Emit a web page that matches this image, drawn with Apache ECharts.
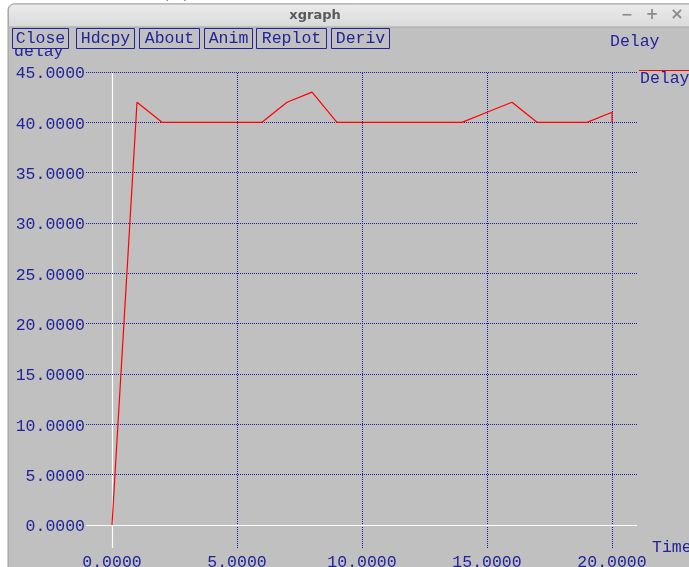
<!DOCTYPE html>
<html>
<head>
<meta charset="utf-8">
<title>xgraph</title>
<script src="https://cdn.jsdelivr.net/npm/echarts@6/dist/echarts.min.js"></script>
<style>
  html, body { margin: 0; padding: 0; background: #ffffff; }
  #chart { width: 689px; height: 567px; }
</style>
</head>
<body>
<div id="chart"></div>
<script>
// Delay samples over time
const times  = [0, 1, 2, 3, 4, 5, 6, 7, 8, 9, 10, 11, 12, 13, 14, 15, 16, 17, 18, 19, 20, 20];
const delays = [0, 42, 40, 40, 40, 40, 40, 42, 43, 40, 40, 40, 40, 40, 40, 41, 42, 40, 40, 40, 41, 40];

// Axis ticks and their labels
const xTicks = [0, 5, 10, 15, 20];
const xTickLabels = ['0.0000', '5.0000', '10.0000', '15.0000', '20.0000'];
const yTicks = [0, 5, 10, 15, 20, 25, 30, 35, 40, 45];
const yTickLabels = ['0.0000', '5.0000', '10.0000', '15.0000', '20.0000',
                     '25.0000', '30.0000', '35.0000', '40.0000', '45.0000'];

// Window text
const windowTitle = 'xgraph';
const buttonLabels = ['Close', 'Hdcpy', 'About', 'Anim', 'Replot', 'Deriv'];
const plotTitle = 'Delay';
const seriesName = 'Delay';
const xAxisName = 'Time';
const yAxisName = 'delay';
const desktopCaption = '(a)';

const INK = '#22229a';
const GRID = '#1c1ca0';
const FACE = '#c0c0c0';
const MONO = '"Liberation Mono", "DejaVu Sans Mono", monospace';
const FONT = '16.5px ' + MONO;

const chart = echarts.init(document.getElementById('chart'), null, { renderer: 'canvas' });

// button frames across the top of the window
const btnLeft  = [12, 76, 139, 204, 256, 331];
const btnRight = [68, 134, 199, 252, 326, 389];
const buttons = buttonLabels.map((t, i) => ({
  type: 'group',
  z: 20,
  children: [
    { type: 'rect', shape: { x: btnLeft[i] + 0.5, y: 28.5, width: btnRight[i] - btnLeft[i], height: 20 },
      style: { fill: FACE, stroke: INK, lineWidth: 1 }, z: 20 },
    { type: 'text', z: 21,
      style: { text: t, x: (btnLeft[i] + btnRight[i]) / 2 + 0.5, y: 39, align: 'center', verticalAlign: 'middle',
               font: FONT, fill: INK } }
  ]
}));

const graphics = [
  // caption on the desktop behind the window
  { type: 'text', z: -12,
    style: { text: desktopCaption, x: 176, y: -7, align: 'center', verticalAlign: 'middle',
             font: '20px "DejaVu Sans", sans-serif', fill: '#222222' } },
  // window body
  { type: 'rect', z: -10, shape: { x: 8, y: 4, width: 690, height: 570, r: [6, 6, 0, 0] },
    style: { fill: FACE, stroke: '#9a9a9a', lineWidth: 1 } },
  // title bar
  { type: 'rect', z: -9, shape: { x: 8.5, y: 4, width: 690, height: 23, r: [6, 6, 0, 0] },
    style: {
      fill: new echarts.graphic.LinearGradient(0, 0, 0, 1, [
        { offset: 0, color: '#ececec' }, { offset: 1, color: '#d9d9d9' }
      ]),
      stroke: '#a8a8a8', lineWidth: 1
    } },
  { type: 'text', z: -8,
    style: { text: windowTitle, x: 315, y: 16, align: 'center', verticalAlign: 'middle',
             font: 'bold 13px "DejaVu Sans", sans-serif', fill: '#5a5a5a' } },
  { type: 'text', z: -8,
    style: { text: '\u2212', x: 627, y: 15, align: 'center', verticalAlign: 'middle',
             font: 'bold 14px "DejaVu Sans", sans-serif', fill: '#8c8c8c' } },
  { type: 'text', z: -8,
    style: { text: '+', x: 652, y: 15, align: 'center', verticalAlign: 'middle',
             font: 'bold 15px "DejaVu Sans", sans-serif', fill: '#8c8c8c' } },
  { type: 'text', z: -8,
    style: { text: '\u00d7', x: 677, y: 15, align: 'center', verticalAlign: 'middle',
             font: 'bold 16px "DejaVu Sans", sans-serif', fill: '#8c8c8c' } },
  // y axis name (partly under the buttons)
  { type: 'text', z: 10,
    style: { text: yAxisName, x: 14, y: 52, align: 'left', verticalAlign: 'middle', font: FONT, fill: INK } },
  // plot title
  { type: 'text', z: 10,
    style: { text: plotTitle, x: 610, y: 42, align: 'left', verticalAlign: 'middle', font: FONT, fill: INK } },
  // legend
  { type: 'line', z: 10, shape: { x1: 639, y1: 70.5, x2: 690, y2: 70.5 },
    style: { stroke: '#ff0000', lineWidth: 1 } },
  { type: 'text', z: 10,
    style: { text: seriesName, x: 640, y: 78.5, align: 'left', verticalAlign: 'middle', font: FONT, fill: INK } },
  // x axis name
  { type: 'text', z: 10,
    style: { text: xAxisName, x: 652, y: 548, align: 'left', verticalAlign: 'middle', font: FONT, fill: INK } }
].concat(buttons);

const labelStyle = { show: true, color: INK, fontFamily: MONO, fontSize: 16.5 };

const vLines = xTicks.map((v, i) => ({
  xAxis: v, name: xTickLabels[i],
  lineStyle: v === 0 ? { color: '#ffffff', type: 'solid', width: 1.2 } : { color: GRID, type: [1, 1], width: 1 },
  label: Object.assign({}, labelStyle, { formatter: '{b}', position: 'start', distance: 6 })
}));
const hLines = yTicks.map((v, i) => ({
  yAxis: v, name: yTickLabels[i],
  lineStyle: v === 0 ? { color: '#ffffff', type: 'solid', width: 1.2 } : { color: GRID, type: [1, 1], width: 1 },
  label: Object.assign({}, labelStyle, {
    formatter: '{t|{b}}', position: 'start', distance: 1,
    rich: { t: { color: INK, fontFamily: MONO, fontSize: 16.5, padding: [4, 0, 0, 0] } }
  })
}));

chart.setOption({
  animation: false,
  backgroundColor: '#ffffff',
  graphic: graphics,
  grid: { left: 86, right: 52, top: 72, bottom: 19, containLabel: false },
  xAxis: {
    type: 'value', min: -1.04, max: 21,
    axisLine: { show: false }, axisTick: { show: false }, axisLabel: { show: false }, splitLine: { show: false }
  },
  yAxis: {
    type: 'value', min: -2.285, max: 45,
    axisLine: { show: false }, axisTick: { show: false }, axisLabel: { show: false }, splitLine: { show: false }
  },
  series: [
    {
      // grid lines and tick labels
      type: 'line', data: [], z: 1, silent: true,
      markLine: {
        silent: true, symbol: ['none', 'none'], animation: false,
        emphasis: { disabled: true },
        data: vLines.concat(hLines)
      }
    },
    {
      name: seriesName, type: 'line', z: 5,
      data: times.map((t, i) => [t, delays[i]]),
      showSymbol: false, symbol: 'none',
      lineStyle: { color: '#ff0000', width: 1.2 },
      itemStyle: { color: '#ff0000' }
    }
  ]
});
</script>
</body>
</html>
